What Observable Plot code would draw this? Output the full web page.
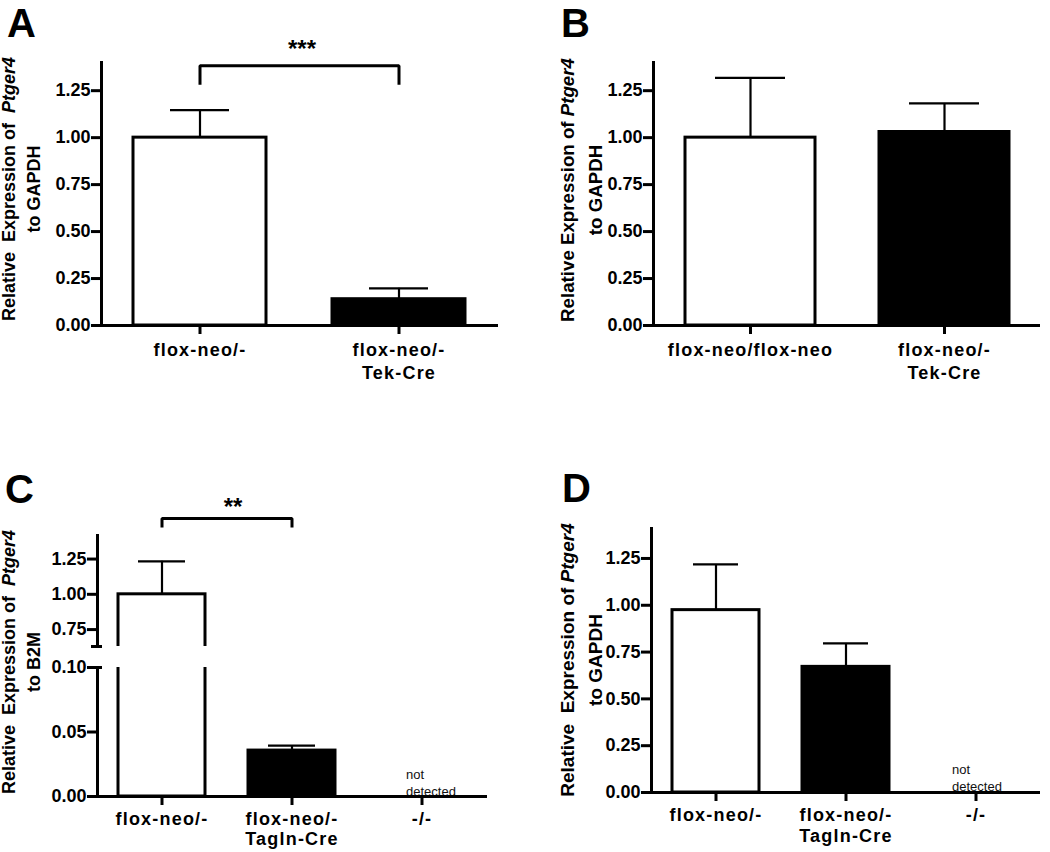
<!DOCTYPE html>
<html>
<head>
<meta charset="utf-8">
<script src="https://cdn.jsdelivr.net/npm/d3@7"></script>
<script src="https://cdn.jsdelivr.net/npm/@observablehq/plot@0.6"></script>
<style>
  body { margin: 0; background: #fff; }
  #root { position: relative; width: 1050px; height: 852px; overflow: hidden; background: #fff;
          font-family: "Liberation Sans", Arial, sans-serif; color: #000; }
  .panel { position: absolute; }
  .panel svg { display: block; }
  .letter { position: absolute; font-weight: bold; line-height: 0.8; }
  .ylab { position: absolute; font-weight: bold; white-space: pre; text-align: center;
          transform: translate(-50%, -50%) rotate(-90deg); }
  g[aria-label="x-axis tick label"] { letter-spacing: 1.2px; }
</style>
</head>
<body>
<div id="root"></div>
<script>
// ---------------- data ----------------
// Panel A
const catsA   = ["flox-neo/-", "flox-neo/-\nTek-Cre"];
const meansA  = [1.00, 0.14];
const uppersA = [1.147, 0.198];
const sigA    = {from: catsA[0], to: catsA[1], top: 1.383, leg: 1.282, label: "***"};

// Panel B
const catsB   = ["flox-neo/flox-neo", "flox-neo/-\nTek-Cre"];
const meansB  = [1.00, 1.03];
const uppersB = [1.318, 1.182];

// Panel C (broken axis)
const catsC   = ["flox-neo/-", "flox-neo/-\nTagln-Cre", "-/-"];
const meansC  = [1.00, 0.0356, null];
const uppersC = [1.234, 0.0395, null];
const sigC    = {from: catsC[0], to: catsC[1], top: 1.537, leg: 1.473, label: "**"};
const notesC  = [{cat: "-/-", note: "not\ndetected"}];

// Panel D
const catsD   = ["flox-neo/-", "flox-neo/-\nTagln-Cre", "-/-"];
const meansD  = [0.974, 0.671, null];
const uppersD = [1.218, 0.796, null];
const notesD  = [{cat: "-/-", note: "not\ndetected"}];

// tick values
const ticksMain  = [0, 0.25, 0.50, 0.75, 1.00, 1.25];
const ticksCHigh = [0.75, 1.00, 1.25];
const ticksCLow  = [0, 0.05, 0.10];
const breakHigh  = 0.63;   // bottom of upper segment in C
const breakLow   = 0.10;   // top of lower segment in C

// ---------------- styles ----------------
const fills = ["#ffffff", "#000000", "#ffffff"];
const FONT = '"Liberation Sans", Arial, sans-serif';
const fmt = d3.format(".2f");
const svgStyle = {background: "transparent", fontFamily: FONT, fontSize: "18px", fontWeight: "bold", color: "#000", overflow: "visible"};
const xBand = (cats) => ({type: "band", domain: cats, paddingInner: 0.33, paddingOuter: 0.16, align: 0.5});

const root = document.getElementById("root");
function mount(svg, left, top) {
  const div = document.createElement("div");
  div.className = "panel";
  div.style.left = left + "px";
  div.style.top = top + "px";
  div.appendChild(svg);
  root.appendChild(div);
}
function rowsOf(cats, means, uppers) {
  return cats.map((c, i) => ({cat: c, mean: means[i], upper: uppers[i], fill: fills[i]}))
             .filter(d => d.mean != null);
}
function barMarks(rows, capInset, clip = false) {
  return [
    Plot.ruleX(rows, {x: "cat", y1: "mean", y2: "upper", stroke: "#000", strokeWidth: 2.2, clip}),
    Plot.tickY(rows, {x: "cat", y: "upper", stroke: "#000", strokeWidth: 2.2, inset: capInset, clip}),
    Plot.barY(rows, {x: "cat", y: "mean", fill: "fill", stroke: "#000", strokeWidth: 3, clip})
  ];
}
function bracketMarks(sig, dx, dy) {
  const pts = [
    {x: sig.from, y: sig.leg}, {x: sig.from, y: sig.top},
    {x: sig.to, y: sig.top}, {x: sig.to, y: sig.leg}
  ];
  return [
    Plot.line(pts, {x: "x", y: "y", stroke: "#000", strokeWidth: 3, strokeLinejoin: "miter", strokeLinecap: "butt"}),
    Plot.text([sig], {x: "from", y: "top", text: "label", dx, dy, fontSize: 24, fontWeight: "bold"})
  ];
}
const yAxis = (ticks) => Plot.axisY({ticks, tickFormat: fmt, tickSize: 10, tickPadding: 1, strokeWidth: 3, label: null});
const xAxis = (lh = 1.25, pad = 6) => Plot.axisX({tickSize: 9, tickPadding: pad, strokeWidth: 3, label: null, lineHeight: lh});
const noteMarks = (notes, dx, dy) => Plot.text(notes, {x: "cat", y: () => 0, text: "note", textAnchor: "start", lineAnchor: "bottom",
                                               dx, dy, fontSize: 13, fontWeight: "normal", lineHeight: 1.3, fill: "#111"});

// ---------------- Panel A ----------------
mount(Plot.plot({
  width: 520, height: 400, marginLeft: 101, marginRight: 22, marginTop: 62, marginBottom: 75,
  x: xBand(catsA), y: {domain: [0, 1.4]}, color: {type: "identity"}, style: svgStyle,
  marks: [
    ...barMarks(rowsOf(catsA, meansA, uppersA), 37),
    ...bracketMarks(sigA, 102, -16.5),
    Plot.frame({anchor: "left", strokeWidth: 3}),
    Plot.ruleY([0], {strokeWidth: 3}),
    yAxis(ticksMain), xAxis()
  ]
}), 0, 0);

// ---------------- Panel B ----------------
mount(Plot.plot({
  width: 530, height: 400, marginLeft: 133, marginRight: 10, marginTop: 62, marginBottom: 75,
  x: xBand(catsB), y: {domain: [0, 1.4]}, color: {type: "identity"}, style: svgStyle,
  marks: [
    ...barMarks(rowsOf(catsB, meansB, uppersB), 30),
    Plot.frame({anchor: "left", strokeWidth: 3}),
    Plot.ruleY([0], {strokeWidth: 3}),
    yAxis(ticksMain), xAxis()
  ]
}), 520, 0);

// ---------------- Panel C (upper segment) ----------------
const rowsC = rowsOf(catsC, meansC, uppersC);
mount(Plot.plot({
  width: 520, height: 210, marginLeft: 97, marginRight: 33, marginTop: 95, marginBottom: 4,
  x: {...xBand(catsC), axis: null}, y: {domain: [breakHigh, 1.417]}, color: {type: "identity"}, style: svgStyle,
  marks: [
    ...barMarks(rowsC, 20, true),
    ...bracketMarks(sigC, 71, -11),
    Plot.frame({anchor: "left", strokeWidth: 3}),
    yAxis(ticksCHigh),
    Plot.axisY({ticks: [breakHigh], tickFormat: () => "", tickSize: 11, dx: 5, strokeWidth: 3, label: null})
  ]
}), 0, 440);

// ---------------- Panel C (lower segment) ----------------
mount(Plot.plot({
  width: 520, height: 202, marginLeft: 97, marginRight: 33, marginTop: 17, marginBottom: 56,
  x: xBand(catsC), y: {domain: [0, breakLow]}, color: {type: "identity"}, style: svgStyle,
  marks: [
    ...barMarks(rowsC, 20, true),
    noteMarks(notesC, -16, -1),
    Plot.frame({anchor: "left", strokeWidth: 3}),
    Plot.ruleY([0], {strokeWidth: 3}),
    yAxis(ticksCLow),
    Plot.axisY({ticks: [breakLow], tickFormat: () => "", tickSize: 5, dx: 5, strokeWidth: 3, label: null}),
    xAxis(1.12, 5)
  ]
}), 0, 650);

// ---------------- Panel D ----------------
mount(Plot.plot({
  width: 530, height: 412, marginLeft: 131, marginRight: 10, marginTop: 88, marginBottom: 60,
  x: xBand(catsD), y: {domain: [0, 1.41]}, color: {type: "identity"}, style: svgStyle,
  marks: [
    ...barMarks(rowsOf(catsD, meansD, uppersD), 21),
    noteMarks(notesD, -24, -2),
    Plot.frame({anchor: "left", strokeWidth: 3}),
    Plot.ruleY([0], {strokeWidth: 3}),
    yAxis(ticksMain), xAxis(1.15, 5)
  ]
}), 520, 440);

// ---------------- panel letters & y labels ----------------
function addLetter(t, left, top, size) {
  const d = document.createElement("div");
  d.className = "letter"; d.textContent = t;
  d.style.left = left + "px"; d.style.top = top + "px"; d.style.fontSize = size + "px";
  root.appendChild(d);
}
addLetter("A", 7, 6.6, 40);
addLetter("B", 561, 6.6, 40);
addLetter("C", 5, 473, 40);
addLetter("D", 562, 472, 40);

function addYLabel(line1, italic, line2, cx, cy, lh, size) {
  const d = document.createElement("div");
  d.className = "ylab";
  d.style.left = cx + "px"; d.style.top = cy + "px";
  d.style.lineHeight = lh + "px"; d.style.fontSize = size + "px";
  d.append(line1);
  const i = document.createElement("i"); i.textContent = italic; d.append(i);
  d.append(document.createElement("br"));
  d.append(line2);
  root.appendChild(d);
}
addYLabel("Relative  Expression of  ", "Ptger4", "to GAPDH", 22, 189, 25, 18);
addYLabel("Relative Expression of ", "Ptger4", "to GAPDH", 582, 190, 28, 18.7);
addYLabel("Relative  Expression of  ", "Ptger4", "to B2M", 22, 662, 25, 18);
addYLabel("Relative  Expression of ", "Ptger4", "to GAPDH", 582, 660, 28, 19);
</script>
</body>
</html>
